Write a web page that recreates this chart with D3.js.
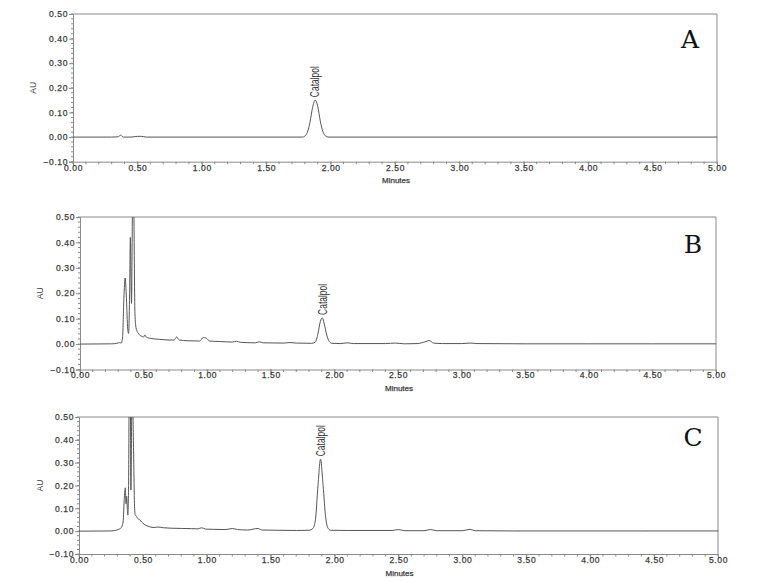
<!DOCTYPE html>
<html><head><meta charset="utf-8">
<script src="https://cdn.jsdelivr.net/npm/d3@7"></script>
<style>body{margin:0;background:#fff}</style>
</head><body>
<svg id="c" width="768" height="582"></svg>
<script>
// ---- data ----
const panelNames = ["A", "B", "C"];
const peakName = "Catalpol";
const yTicks = [-0.10, 0.00, 0.10, 0.20, 0.30, 0.40, 0.50];
const xTicks = [0.00, 0.50, 1.00, 1.50, 2.00, 2.50, 3.00, 3.50, 4.00, 4.50, 5.00];
const xLabel = "Minutes";
const yLabel = "AU";
const peakTimes = [1.88, 1.905, 1.89];
const peakHeights = [0.15, 0.103, 0.315];

const seriesA = [[0,0],[0.30,0],[0.35,0.001],[0.37,0.008],[0.39,0.0],[0.45,0],[0.50,0.003],[0.53,0.003],[0.57,0],[1.78,0],[1.80,0.004],[1.82,0.02],[1.84,0.06],[1.86,0.12],[1.88,0.15],[1.90,0.125],[1.92,0.065],[1.94,0.022],[1.96,0.005],[1.98,0],[5,0]];
const seriesB = [[0,0],[0.25,0.001],[0.29,0.003],[0.31,0.006],[0.325,0.004],[0.335,0.03],[0.345,0.18],[0.355,0.26],[0.365,0.18],[0.375,0.06],[0.382,0.042],[0.39,0.2],[0.396,0.42],[0.401,0.25],[0.405,0.16],[0.41,0.4],[0.418,0.9],[0.425,0.45],[0.432,0.12],[0.44,0.065],[0.455,0.045],[0.48,0.032],[0.50,0.028],[0.51,0.036],[0.52,0.028],[0.56,0.022],[0.62,0.019],[0.70,0.016],[0.74,0.016],[0.76,0.028],[0.78,0.016],[0.85,0.013],[0.94,0.012],[0.97,0.026],[0.99,0.024],[1.02,0.012],[1.10,0.010],[1.20,0.008],[1.23,0.011],[1.26,0.007],[1.38,0.005],[1.41,0.009],[1.44,0.005],[1.60,0.004],[1.65,0.006],[1.70,0.004],[1.82,0.003],[1.85,0.008],[1.87,0.04],[1.89,0.09],[1.905,0.103],[1.92,0.08],[1.94,0.035],[1.96,0.01],[1.98,0.003],[2.05,0.002],[2.10,0.005],[2.15,0.002],[2.40,0.002],[2.48,0.004],[2.55,0.001],[2.65,0.002],[2.72,0.01],[2.745,0.014],[2.78,0.004],[2.85,0.002],[3.0,0.002],[3.07,0.004],[3.12,0.002],[3.5,0.001],[4.0,0.001],[4.5,0.001],[5,0.001]];
const seriesC = [[0,0],[0.25,0.001],[0.28,0.003],[0.31,0.008],[0.33,0.015],[0.345,0.04],[0.355,0.15],[0.362,0.19],[0.368,0.12],[0.373,0.153],[0.378,0.1],[0.382,0.07],[0.388,0.2],[0.395,0.8],[0.402,0.6],[0.406,0.18],[0.412,0.5],[0.418,0.75],[0.424,0.45],[0.428,0.32],[0.434,0.12],[0.44,0.07],[0.45,0.065],[0.46,0.055],[0.475,0.05],[0.49,0.04],[0.51,0.03],[0.54,0.022],[0.58,0.016],[0.62,0.018],[0.66,0.015],[0.72,0.013],[0.80,0.012],[0.88,0.011],[0.93,0.01],[0.96,0.015],[0.99,0.009],[1.05,0.008],[1.15,0.007],[1.2,0.012],[1.24,0.007],[1.32,0.005],[1.40,0.012],[1.43,0.005],[1.55,0.004],[1.70,0.003],[1.80,0.004],[1.83,0.012],[1.85,0.05],[1.87,0.2],[1.89,0.315],[1.91,0.2],[1.93,0.06],[1.95,0.012],[1.97,0.004],[2.1,0.003],[2.45,0.003],[2.5,0.007],[2.55,0.002],[2.7,0.002],[2.75,0.007],[2.8,0.002],[3.0,0.002],[3.06,0.008],[3.1,0.002],[3.4,0.001],[4.4,0.001],[5,0.001]];
const allSeries = [seriesA, seriesB, seriesC];

// ---- layout ----
const layout = [
  {l:73, r:717, t:14, b:161.7, lx:690, ly:48, au:33},
  {l:80, r:716, t:217, b:369.5, lx:693, ly:253, au:40},
  {l:79, r:718, t:417, b:554, lx:693, ly:446, au:40}
];
const svg = d3.select("#c");
const frameColor = "#8a8a8a";
const textColor = "#3a3a3a";
const sans = "Liberation Sans, Arial, sans-serif";

layout.forEach((p, i) => {
  const x = d3.scaleLinear().domain([0, 5]).range([p.l, p.r]);
  const y = d3.scaleLinear().domain([-0.1, 0.5]).range([p.b, p.t]);
  const g = svg.append("g");

  g.append("clipPath").attr("id", "clip" + i).append("rect")
    .attr("x", p.l).attr("y", p.t).attr("width", p.r - p.l).attr("height", p.b - p.t);

  g.append("line").attr("x1", p.l).attr("x2", p.r).attr("y1", p.t).attr("y2", p.t).attr("stroke", frameColor);
  g.append("line").attr("x1", p.r).attr("x2", p.r).attr("y1", p.t).attr("y2", p.b).attr("stroke", frameColor);

  const yAx = g.append("g").attr("transform", `translate(${p.l},0)`)
    .call(d3.axisLeft(y).tickValues(yTicks).tickFormat(d3.format(".2f")).tickSize(4).tickPadding(1));
  const yMinor = d3.range(-0.1, 0.5001, 0.02);
  g.append("g").selectAll("line").data(yMinor).join("line")
    .attr("x1", p.l - 2).attr("x2", p.l).attr("y1", d => y(d)).attr("y2", d => y(d))
    .attr("stroke", frameColor);

  const xAx = g.append("g").attr("transform", `translate(0,${p.b})`)
    .call(d3.axisBottom(x).tickValues(xTicks).tickFormat(d3.format(".2f")).tickSize(5).tickPadding(0));
  const xMinor = d3.range(0, 5.0001, 0.1);
  g.append("g").selectAll("line").data(xMinor).join("line")
    .attr("x1", d => x(d)).attr("x2", d => x(d)).attr("y1", p.b).attr("y2", p.b + 2.5)
    .attr("stroke", frameColor);

  [yAx, xAx].forEach(ax => {
    ax.select(".domain").attr("stroke", frameColor);
    ax.selectAll(".tick line").attr("stroke", frameColor);
    ax.selectAll("text").attr("fill", textColor).attr("font-family", sans)
      .attr("font-size", 8.5).attr("letter-spacing", 0.6)
      .attr("stroke", textColor).attr("stroke-width", 0.25);
  });
  xAx.selectAll("text").attr("dy", "0.45em");

  g.append("text").attr("x", (p.l + p.r) / 2 + 1).attr("y", p.b + 21.5)
    .attr("text-anchor", "middle").attr("font-family", sans)
    .attr("font-size", 8).attr("fill", textColor).attr("stroke", textColor).attr("stroke-width", 0.25).text(xLabel);
  g.append("text").attr("transform", `translate(${p.au},${(y(0.5) + y(-0.1)) / 2}) rotate(-90)`)
    .attr("text-anchor", "middle").attr("dy", "0.35em")
    .attr("font-family", sans).attr("font-size", 8.5).attr("fill", textColor).text(yLabel);

  const line = d3.line().x(d => x(d[0])).y(d => y(d[1])).curve(d3.curveMonotoneX);
  g.append("path").datum(allSeries[i]).attr("d", line)
    .attr("clip-path", `url(#clip${i})`)
    .attr("fill", "none").attr("stroke", "#555").attr("stroke-width", 1);

  const px = x(peakTimes[i]), py = y(peakHeights[i]) - 3;
  g.append("text").attr("transform", `translate(${px},${py}) rotate(-90)`)
    .attr("dy", "0.35em").attr("text-anchor", "start")
    .attr("font-family", sans).attr("font-size", 12)
    .attr("textLength", 31).attr("lengthAdjust", "spacingAndGlyphs")
    .attr("fill", "#333").text(peakName);

  g.append("text").attr("x", p.lx).attr("y", p.ly).attr("text-anchor", "middle")
    .attr("font-family", "DejaVu Serif, Liberation Serif, serif").attr("font-size", 25)
    .attr("fill", "#111").text(panelNames[i]);
});
</script>
</body></html>
